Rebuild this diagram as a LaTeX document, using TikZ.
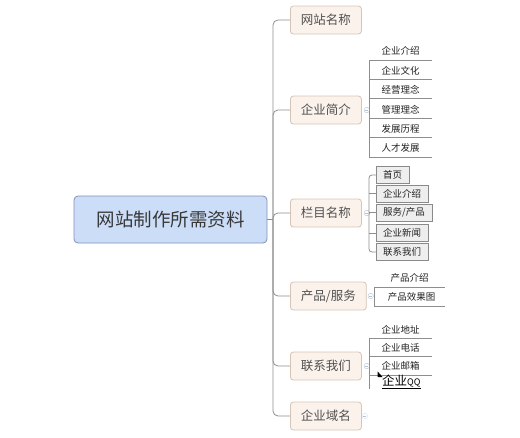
\documentclass[tikz,border=0pt]{standalone}
\usepackage{fontspec}
\setmainfont{Noto Sans CJK SC}
\usepackage{tikz}
\usetikzlibrary{positioning,calc}
\definecolor{rootfill}{HTML}{CCDDF8}
\definecolor{rootline}{HTML}{7F93B2}
\definecolor{topfill}{HTML}{FBF2EC}
\definecolor{topline}{HTML}{D6C4B6}
\definecolor{subfill}{HTML}{EEEEEE}
\definecolor{subline}{HTML}{8A8A8A}
\definecolor{linkg}{HTML}{8E8E8E}
\definecolor{iconc}{HTML}{B3C4D8}
\definecolor{textg}{HTML}{505050}
\definecolor{textd}{HTML}{222222}
\newcommand{\fsz}[1]{\fontsize{#1}{#1}\selectfont}
\tikzset{
  % central topic, pale blue
  root/.style  = {rectangle, rounded corners=4pt, draw=rootline, fill=rootfill, thick,
                  minimum width=193pt, minimum height=47pt, font=\fsz{18.5}, text=textd!90},
  % first level, beige
  topic/.style = {rectangle, rounded corners=3pt, draw=topline, fill=topfill, thick,
                  inner xsep=10.5pt, minimum height=28pt, font=\fsz{12.5}, text=textg, anchor=west},
  % second level boxes
  sub/.style   = {rectangle, draw=subline, fill=subfill, inner xsep=7pt, inner ysep=0pt,
                  minimum height=17pt, font=\fsz{9.5}, text=textd, anchor=west},
  % second level, text on a line
  leaf/.style  = {rectangle, inner sep=0pt, minimum width=#1, minimum height=17pt,
                  font=\fsz{9.5}, text=textd, anchor=south west},
  leaf/.default = 63pt,
  link/.style  = {draw=linkg, line width=0.8pt},
  icon/.style  = {circle, draw=iconc, fill=white, inner sep=0pt, minimum size=5.5pt,
                  path picture={\draw[iconc] ([xshift=-1.5pt]path picture bounding box.center)
                  -- ([xshift=1.5pt]path picture bounding box.center);}},
}

\begin{document}
\begin{tikzpicture}[x=1pt,y=-1pt]
\useasboundingbox (0,0) rectangle (520,437);
% centre
\node[root] (root) at (170.5,219.5) {网站制作所需资料};
\coordinate (tr) at (273,219.5);
% first level
\node[topic] (web)    at (290,20)  {网站名称};
\node[topic] (intro)  at (290,110) {企业简介};
\node[topic] (col)    at (290,213) {栏目名称};
\node[topic] (prod)   at (290,296) {产品/服务};
\node[topic] (cont)   at (290,366) {联系我们};
\node[topic] (domain) at (290,416) {企业域名};
\draw[link] (root.east) -- (tr);
\draw[link, rounded corners=5pt] (web.west) -| (tr) |- (domain.west);
\foreach \n in {intro,col,prod,cont}
  {\draw[link, rounded corners=5pt] (tr) |- (\n.west);}
% icons
\node[icon] (iintro) at ([xshift=5pt]intro.east) {};
\node[icon] (icol)   at ([xshift=5pt]col.east) {};
\node[icon] (iprod)  at ([xshift=4pt]prod.east) {};
\node[icon] (icont)  at ([xshift=5pt]cont.east) {};
\node[icon, draw=iconc!50] (idom) at ([xshift=3pt]domain.east) {};
% 企业简介
\foreach \t [count=\i] in {企业介绍,企业文化,经营理念,管理理念,发展历程,人才发展}
  {\node[leaf] (jj\i) at (369,{60+19.4*(\i-1)}) {\t};
   \draw[link] (jj\i.south west) -- (jj\i.south east);}
\draw[link] (jj1.south west) -- (jj6.south west);
\draw[link] (iintro) -- (iintro -| jj1.south west);
% 栏目名称
\node[sub] (c1) at (376,175)   {首页};
\node[sub] (c2) at (376,193.5) {企业介绍};
\node[sub] (c3) at (376,212.5) {服务/产品};
\node[sub] (c4) at (376,233)   {企业新闻};
\node[sub] (c5) at (376,252)   {联系我们};
\draw[link, rounded corners=3pt] (c1.west) -- ++(-7,0) |- (c5.west);
\foreach \i in {2,3,4}
  {\draw[link] (c\i.west) -- ++(-7,0);}
\draw[link] (icol) -- ($(icol -| c1.west)+(-7,0)$);
% 产品/服务
\node[leaf=71pt] (p1) at (374,287) {产品介绍};
\node[leaf=71pt] (p2) at (374,306) {\hspace{4pt}产品效果图};
\draw[link] (p1.south west) -- (p1.south east);
\draw[link] (p2.south west) -- (p2.south east);
\draw[link] (p1.south west) -- (p2.south west);
\draw[link] (iprod) -- (iprod -| p1.south west);
% 联系我们
\foreach \t [count=\i] in {企业地址,企业电话,企业邮箱}
  {\node[leaf] (kk\i) at (369,{338+18.5*(\i-1)}) {\t};
   \draw[link] (kk\i.south west) -- (kk\i.south east);}
\node[anchor=west, inner sep=0pt, font=\fsz{12.5}] (qq) at (382,382) {\underline{企业{\fsz{9}QQ}}};
\coordinate (qqend) at (369,389);
\draw[link] (kk1.south west) -- (qqend);
\draw[link] (icont) -- (icont -| kk1.south west);
\fill[black] (377.7,371.5) -- (377.7,377) -- (382.5,377) -- cycle;
\end{tikzpicture}
\end{document}
